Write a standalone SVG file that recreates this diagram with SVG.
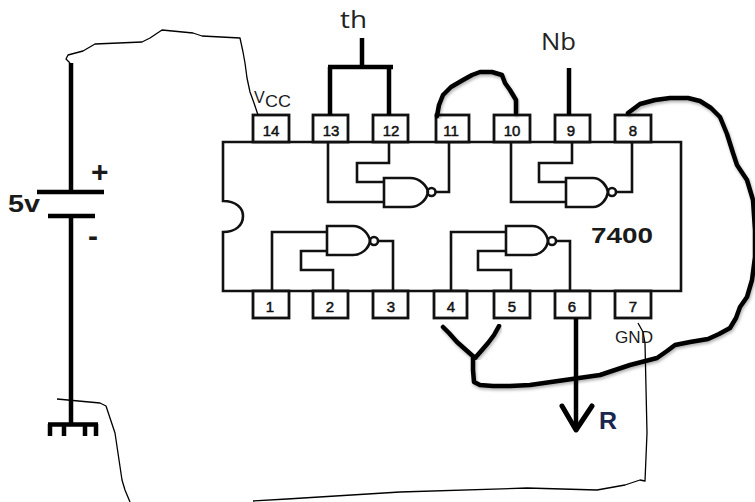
<svg xmlns="http://www.w3.org/2000/svg" width="755" height="502" viewBox="0 0 755 502">
<defs>
<filter id="shadow" x="-5%" y="-5%" width="110%" height="110%"><feDropShadow dx="1" dy="2" stdDeviation="1.5" flood-color="#000" flood-opacity="0.3"/></filter>
</defs>
<style>
.ln{fill:none;stroke:#111;stroke-width:2.6;stroke-linejoin:miter}
.pin{fill:#fff;stroke:#111;stroke-width:2.8}
.pn{font-family:"Liberation Sans",Arial,sans-serif;font-size:15px;fill:#111;text-anchor:middle;stroke:#111;stroke-width:.5}
.thick{fill:none;stroke:#000;stroke-width:4.5;stroke-linecap:butt;stroke-linejoin:miter}
.hand{fill:none;stroke:#000;stroke-width:4.5;stroke-linejoin:round;stroke-linecap:round;filter:url(#shadow)}
.thin{fill:none;stroke:#000;stroke-width:1.3;stroke-linejoin:round}
.sans{font-family:"Liberation Sans",Arial,sans-serif;fill:#1a1a1a}
.label{font-family:"Open Sans","DejaVu Sans",sans-serif;fill:#222}
.b{font-family:"Liberation Sans",Arial,sans-serif;font-weight:bold;fill:#1a1a1a}
</style>
<rect width="755" height="502" fill="#fff"/>

<g id="chip-body"><path class="ln" d="M223 201V142H681V291H223V232C236 232 243 225 243 216C243 208 236 201 223 201Z" fill="#fff"/></g>

<g id="pin-14"><rect class="pin" x="253" y="115" width="36" height="27"/><text class="pn" x="271" y="136">14</text></g>
<g id="pin-13"><rect class="pin" x="313" y="115" width="35" height="27"/><text class="pn" x="331" y="136">13</text></g>
<g id="pin-12"><rect class="pin" x="373" y="115" width="35" height="27"/><text class="pn" x="391" y="136">12</text></g>
<g id="pin-11"><rect class="pin" x="436" y="115" width="33" height="27"/><text class="pn" x="451" y="136">11</text></g>
<g id="pin-10"><rect class="pin" x="494" y="115" width="36" height="27"/><text class="pn" x="512" y="136">10</text></g>
<g id="pin-9"><rect class="pin" x="555" y="115" width="35" height="27"/><text class="pn" x="571" y="136">9</text></g>
<g id="pin-8"><rect class="pin" x="615" y="115" width="36" height="27"/><text class="pn" x="633" y="136">8</text></g>
<g id="pin-1"><rect class="pin" x="253" y="291" width="36" height="27"/><text class="pn" x="270" y="312">1</text></g>
<g id="pin-2"><rect class="pin" x="313" y="291" width="35" height="27"/><text class="pn" x="330" y="312">2</text></g>
<g id="pin-3"><rect class="pin" x="373" y="291" width="35" height="27"/><text class="pn" x="391" y="312">3</text></g>
<g id="pin-4"><rect class="pin" x="434" y="291" width="33" height="27"/><text class="pn" x="451" y="312">4</text></g>
<g id="pin-5"><rect class="pin" x="494" y="291" width="36" height="27"/><text class="pn" x="512" y="312">5</text></g>
<g id="pin-6"><rect class="pin" x="555" y="291" width="35" height="27"/><text class="pn" x="572" y="312">6</text></g>
<g id="pin-7"><rect class="pin" x="615" y="291" width="36" height="27"/><text class="pn" x="633" y="312">7</text></g>

<g id="gate-top-left">
<path class="ln" d="M384 178H410C420 178 427 186 428 192C427 199 420 207 410 207H384Z"/><circle class="ln" cx="431.500" cy="192" r="4"/>
<path class="ln" d="M328 142V202H384M389 142V163H357V182H384M436 192H449V142"/>
</g>
<g id="gate-top-right">
<path class="ln" d="M566 178H593C601 178 607 186 608 192C607 199 601 207 593 207H566Z"/><circle class="ln" cx="612" cy="192" r="4"/>
<path class="ln" d="M511 142V202H566M572 142V163H539V182H566M616 192H632V142"/>
</g>
<g id="gate-bottom-left">
<path class="ln" d="M327 226H353C362 226 369 234 370 241C369 248 362 255 353 255H327Z"/><circle class="ln" cx="374" cy="241" r="4"/>
<path class="ln" d="M272 291V232H327M333 291V270H301V251H327M378 241H393V291"/>
</g>
<g id="gate-bottom-right">
<path class="ln" d="M506 226H532C541 226 547 234 548 241C547 248 541 255 532 255H506Z"/><circle class="ln" cx="552" cy="241" r="4"/>
<path class="ln" d="M451 291V232H506M511 291V270H478V251H506M556 241H570V291"/>
</g>

<g id="battery">
<path class="thick" d="M71 63V192"/>
<path class="thick" d="M37 192H104"/>
<path class="thick" d="M48 216H95"/>
<path class="thick" d="M71 216V424"/>
<text class="b" x="8" y="212" font-size="24" textLength="32" lengthAdjust="spacingAndGlyphs">5v</text>
<text class="b" x="91" y="182" font-size="30">+</text>
<text class="b" x="88" y="246" font-size="30">-</text>
</g>
<g id="ground">
<path class="thick" d="M48 424.500H98M50 424V436M64 424V436M85 424V436M96 424V436"/>
</g>

<g id="connectors">
<path class="thick" d="M362 38V67M328 67H393M330 67V115M389 67V115"/>
<path class="thick" d="M569 68V115"/>
<polyline class="hand" points="437,116 439,105 443,95 451,87 463,80 472,75 480,72 492,72 502,75 505,83 510,90 516,100 516,113"/>
<polyline class="hand" points="628,113 640,104 655,100 670,98 688,98 700,101 711,108 720,117 727,134 733,153 737,165 747,180 753,200 755,230 755,257 752,280 747,297 740,307 736,318 730,328 719,334 708,339 690,342 675,345 667,351 657,358 630,365 600,375 565,380 530,385 510,386 493,386 480,385 474,382 473,370 473,358"/>
<polyline class="hand" points="443,327 449,333 457,342 466,350 475,358 482,350 488,343 494,335 499,326"/>
<path class="thick" d="M576 318V430"/>
<polyline class="thick" points="562,406 576,430 592,406" style="stroke-width:5;stroke-linejoin:round;stroke-linecap:round"/>
<polyline class="thin" points="70,63 66,59 68,55 83,51 95,44 142,42 150,38 162,30 193,33 202,36 240,38 243,52 245,63 247,78 250,92 254,103 258,115"/>
<polyline class="thin" points="57,399 100,403 106,406 115,433 122,480 125,490 130,502"/>
<polyline class="thin" points="253,501 287,499 400,492 527,488 597,490 625,485 640,480 645,481 647,433 645,343 643,332 638,323"/>
</g>

<g id="labels">
<text class="sans" x="254" y="103" font-size="16">V</text>
<text class="sans" x="265" y="107" font-size="17" textLength="26" lengthAdjust="spacingAndGlyphs">CC</text>
<text class="sans" x="615" y="343" font-size="17" textLength="38" lengthAdjust="spacingAndGlyphs">GND</text>
<text class="b" x="591" y="243" font-size="22" textLength="62" lengthAdjust="spacingAndGlyphs">7400</text>
<text class="b" x="599" y="429" font-size="23" textLength="18" lengthAdjust="spacingAndGlyphs" style="fill:#1a2550">R</text>
<text class="label" x="340" y="28" font-size="24" textLength="27" lengthAdjust="spacingAndGlyphs">th</text>
<text class="label" x="541" y="50" font-size="24" textLength="35" lengthAdjust="spacingAndGlyphs">Nb</text>
</g>
</svg>
